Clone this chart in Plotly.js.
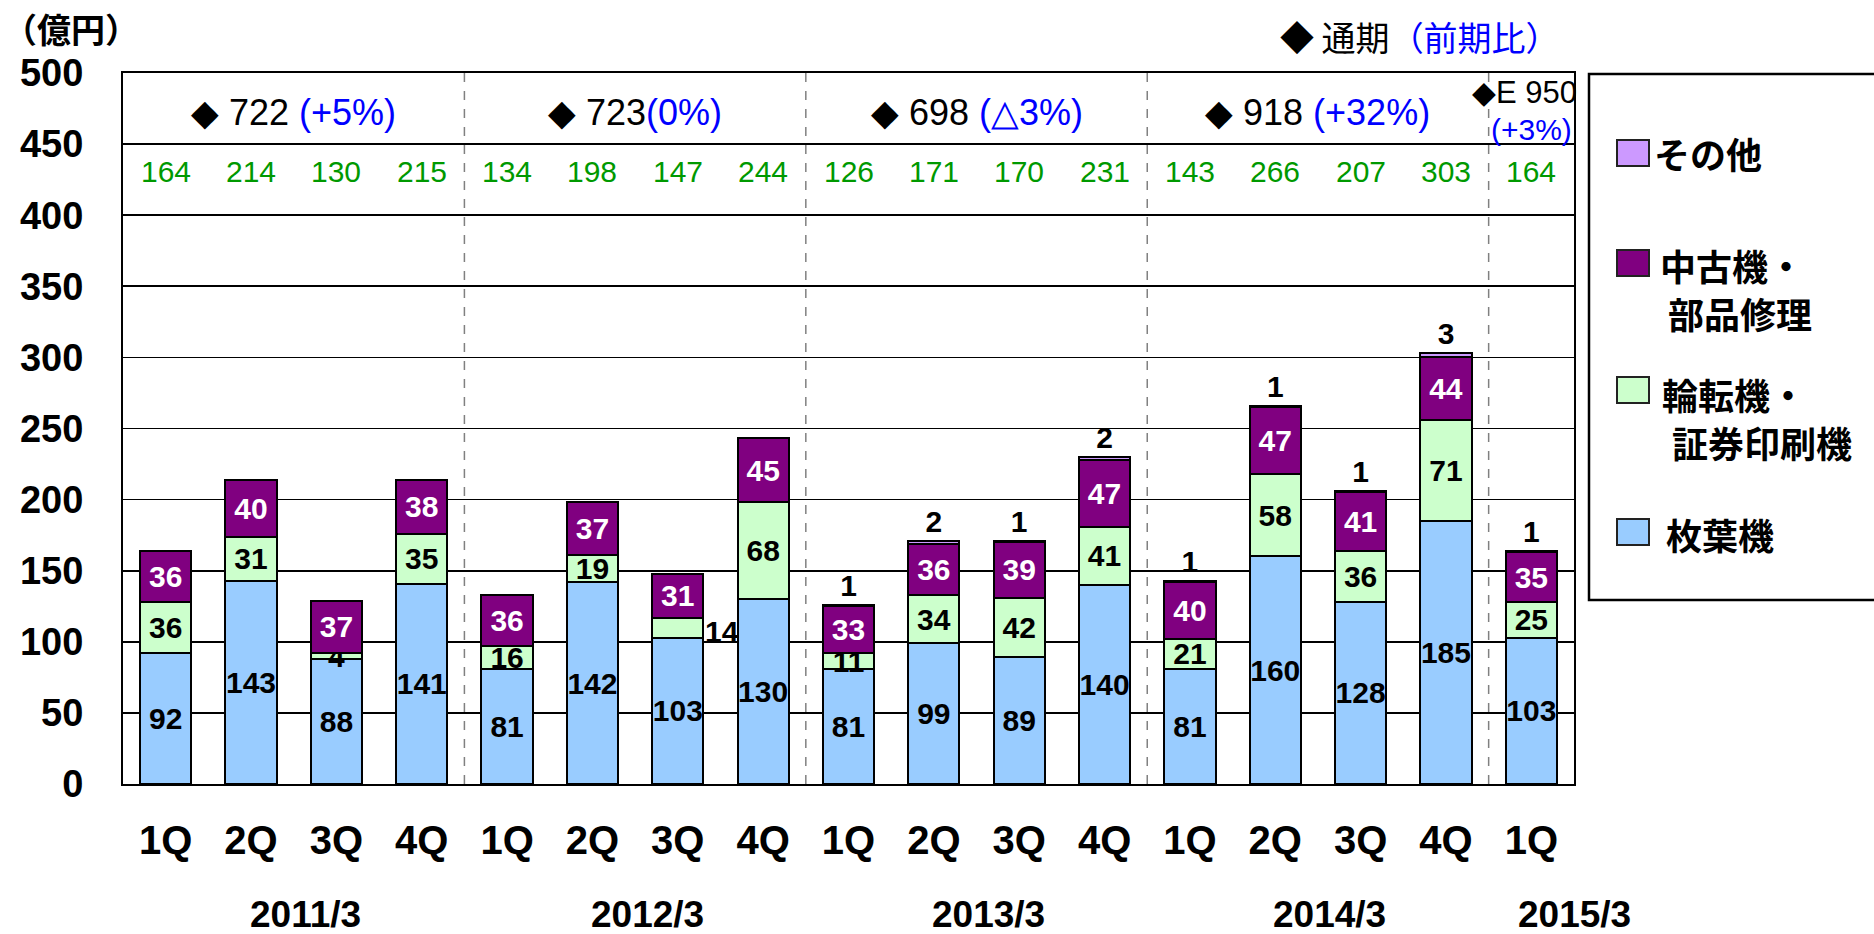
<!DOCTYPE html>
<html>
<head>
<meta charset="utf-8">
<script src="https://cdn.plot.ly/plotly-3.0.1.min.js"></script>
<style>html,body{margin:0;padding:0;background:#fff;}#chart{width:1874px;height:934px;}</style>
</head>
<body>
<div id="chart"></div>
<script>
// ---- data ----
const quarters = ['1Q','2Q','3Q','4Q','1Q','2Q','3Q','4Q','1Q','2Q','3Q','4Q','1Q','2Q','3Q','4Q','1Q'];
const fiscalYears = ['2011/3','2012/3','2013/3','2014/3','2015/3'];
const quartersPerYear = [4,4,4,4,1];
const sheetFed   = [92,143,88,141, 81,142,103,130, 81,99,89,140, 81,160,128,185, 103];
const webOffset  = [36,31,4,35, 16,19,14,68, 11,34,42,41, 21,58,36,71, 25];
const usedParts  = [36,40,37,38, 36,37,31,45, 33,36,39,47, 40,47,41,44, 35];
const others     = [0,0,0,0, 0,0,0,0, 1,2,1,2, 1,1,1,3, 1];
const quarterTotals = [164,214,130,215, 134,198,147,244, 126,171,170,231, 143,266,207,303, 164];
const annualTotals = ['722','723','698','918','E 950'];
const annualChange = [' (+5%)','(0%)',' (△3%)',' (+32%)','(+3%)'];
const seriesNames = ['枚葉機','輪転機・証券印刷機','中古機・部品修理','その他'];
const legendLines = [['その他'],['中古機・','部品修理'],['輪転機・','証券印刷機'],['枚葉機']];

// ---- layout helpers ----
const W = 1874, H = 934, ML = 123, MT = 73, PW = 1451, PH = 711;
const pxX = x => (x - ML) / PW;
const pxY = y => (MT + PH - y) / PH;
const idx = quarters.map((q, i) => i);
const NUM = 'Liberation Sans, Arial, sans-serif';
const CJK = 'Noto Sans CJK JP, sans-serif';
const colors = ['#99CCFF', '#CCFFCC', '#800080', '#CC99FF'];
const sideLabel = [6]; // label drawn beside the bar (segment too thin)

const line = {color: '#000', width: 2};
const inFont = c => ({family: NUM, size: 30, color: c, weight: 'bold'});

const traces = [
  {type: 'bar', name: seriesNames[0], x: idx, y: sheetFed, marker: {color: colors[0], line},
   text: sheetFed.map(String), textposition: 'inside', insidetextanchor: 'middle',
   constraintext: 'none', textangle: 0, textfont: inFont('#000'), hoverinfo: 'y+name'},
  {type: 'bar', name: seriesNames[1], x: idx, y: webOffset, marker: {color: colors[1], line},
   text: webOffset.map((v, i) => sideLabel.includes(i) ? '' : String(v)), textposition: 'inside',
   insidetextanchor: 'middle', constraintext: 'none', textangle: 0, textfont: inFont('#000'), hoverinfo: 'y+name'},
  {type: 'bar', name: seriesNames[2], x: idx, y: usedParts, marker: {color: colors[2], line},
   text: usedParts.map(String), textposition: 'inside', insidetextanchor: 'middle',
   constraintext: 'none', textangle: 0, textfont: inFont('#fff'), hoverinfo: 'y+name'},
  {type: 'bar', name: seriesNames[3], x: idx, y: others, marker: {color: colors[3], line},
   text: others.map(v => v > 0 ? String(v) : ''), textposition: 'outside',
   constraintext: 'none', textangle: 0, textfont: inFont('#000'), cliponaxis: false, hoverinfo: 'y+name'}
];

// group geometry
const groups = [];
let start = 0;
quartersPerYear.forEach((n, g) => { groups.push({start, end: start + n - 1}); start += n; });

const shapes = [];
const annotations = [];

// dashed separators between fiscal years
groups.slice(0, -1).forEach(g => {
  shapes.push({type: 'line', xref: 'x', yref: 'paper', x0: g.end + 0.5, x1: g.end + 0.5, y0: 0, y1: 1,
    line: {color: '#808080', width: 1.5, dash: 'dash'}, layer: 'above'});
});

// fiscal-year labels under the axis
groups.forEach((g, k) => {
  const c = (g.start + g.end) / 2 + (g.start === g.end ? 0.5 : 0.14);
  annotations.push({xref: 'x', yref: 'paper', x: c, y: pxY(915), text: fiscalYears[k], showarrow: false,
    font: {family: NUM, size: 37, color: '#000', weight: 'bold'}, xanchor: 'center', yanchor: 'middle'});
});

// annual totals in the top band
groups.forEach((g, k) => {
  if (k < groups.length - 1) {
    annotations.push({xref: 'x', yref: 'y', x: (g.start + g.end) / 2, y: 472, showarrow: false,
      text: '◆ ' + annualTotals[k] + '<span style="color:#0000FF">' + annualChange[k] + '</span>',
      font: {family: NUM, size: 36, color: '#000'}, xanchor: 'center', yanchor: 'middle'});
  } else {
    annotations.push({xref: 'x', yref: 'y', x: g.end + 0.5, xshift: 5, y: 486, showarrow: false,
      text: '◆' + annualTotals[k], font: {family: NUM, size: 31, color: '#000'},
      xanchor: 'right', yanchor: 'middle'});
    annotations.push({xref: 'x', yref: 'y', x: g.end + 0.5, y: 460, showarrow: false,
      text: annualChange[k], font: {family: NUM, size: 30, color: '#0000FF'},
      xanchor: 'right', yanchor: 'middle'});
  }
});

// quarter totals (green row)
quarterTotals.forEach((v, i) => {
  annotations.push({xref: 'x', yref: 'y', x: i, y: 431, text: String(v), showarrow: false,
    font: {family: NUM, size: 30, color: '#009900'}, xanchor: 'center', yanchor: 'middle'});
});

// side label for thin segment
sideLabel.forEach(i => {
  annotations.push({xref: 'x', yref: 'y', x: i + 0.3, y: sheetFed[i] + webOffset[i] / 2, yshift: -4,
    text: String(webOffset[i]), showarrow: false, font: inFont('#000'), xanchor: 'left', yanchor: 'middle'});
});

// header texts
annotations.push({xref: 'paper', yref: 'paper', x: pxX(1), y: pxY(29), text: '（億円）', showarrow: false,
  font: {family: CJK, size: 34, color: '#000', weight: 'bold'}, xanchor: 'left', yanchor: 'middle'});
annotations.push({xref: 'paper', yref: 'paper', x: pxX(1420), y: pxY(37),
  text: '◆ 通期<span style="color:#0000FF">（前期比）</span>', showarrow: false,
  font: {family: CJK, size: 34, color: '#000'}, xanchor: 'center', yanchor: 'middle'});

// manual legend
shapes.push({type: 'rect', xref: 'paper', yref: 'paper', x0: pxX(1589), x1: pxX(1990), y0: pxY(600), y1: pxY(74),
  line: {color: '#000', width: 2.5}, fillcolor: 'rgba(0,0,0,0)', layer: 'above'});
const legSwY = [153, 263, 390, 532];
const legColors = [colors[3], colors[2], colors[1], colors[0]];
const legTextX = [[1652], [1658], [1660], [1664]];
const legTextY = [[153], [265, 313], [394, 442], [534]];
const legIndent = [[0], [0, 8], [0, 10], [0]];
legendLines.forEach((lines, k) => {
  shapes.push({type: 'rect', xref: 'paper', yref: 'paper', x0: pxX(1617), x1: pxX(1649),
    y0: pxY(legSwY[k] + 13), y1: pxY(legSwY[k] - 13), fillcolor: legColors[k],
    line: {color: '#222', width: 2}, layer: 'above'});
  lines.forEach((t, j) => {
    annotations.push({xref: 'paper', yref: 'paper', x: pxX(legTextX[k][0] + legIndent[k][j]), y: pxY(legTextY[k][j]),
      text: t, showarrow: false, font: {family: CJK, size: 36, color: '#000', weight: 'bold'},
      xanchor: 'left', yanchor: 'middle', height: 40});
  });
});

const layout = {
  width: W, height: H, autosize: false,
  margin: {l: ML, r: W - ML - PW, t: MT, b: H - MT - PH, pad: 0},
  paper_bgcolor: '#fff', plot_bgcolor: '#fff',
  barmode: 'stack', bargap: 0.4, showlegend: false,
  xaxis: {range: [-0.5, quarters.length - 0.5], tickvals: idx, ticktext: quarters, showgrid: false,
    zeroline: false, showline: true, mirror: true, linecolor: '#000', linewidth: 2, ticks: '',
    ticklabelstandoff: 20, tickfont: {family: NUM, size: 40, color: '#000', weight: 'bold'}},
  yaxis: {range: [0, 500], dtick: 50, tick0: 0, showgrid: true, gridcolor: '#000', gridwidth: 1.6,
    zeroline: false, showline: true, mirror: true, linecolor: '#000', linewidth: 2, ticks: '',
    ticklabelstandoff: 30, tickfont: {family: NUM, size: 38, color: '#000', weight: 'bold'}},
  shapes, annotations
};

Plotly.newPlot('chart', traces, layout, {displayModeBar: false, staticPlot: true});
</script>
</body>
</html>
